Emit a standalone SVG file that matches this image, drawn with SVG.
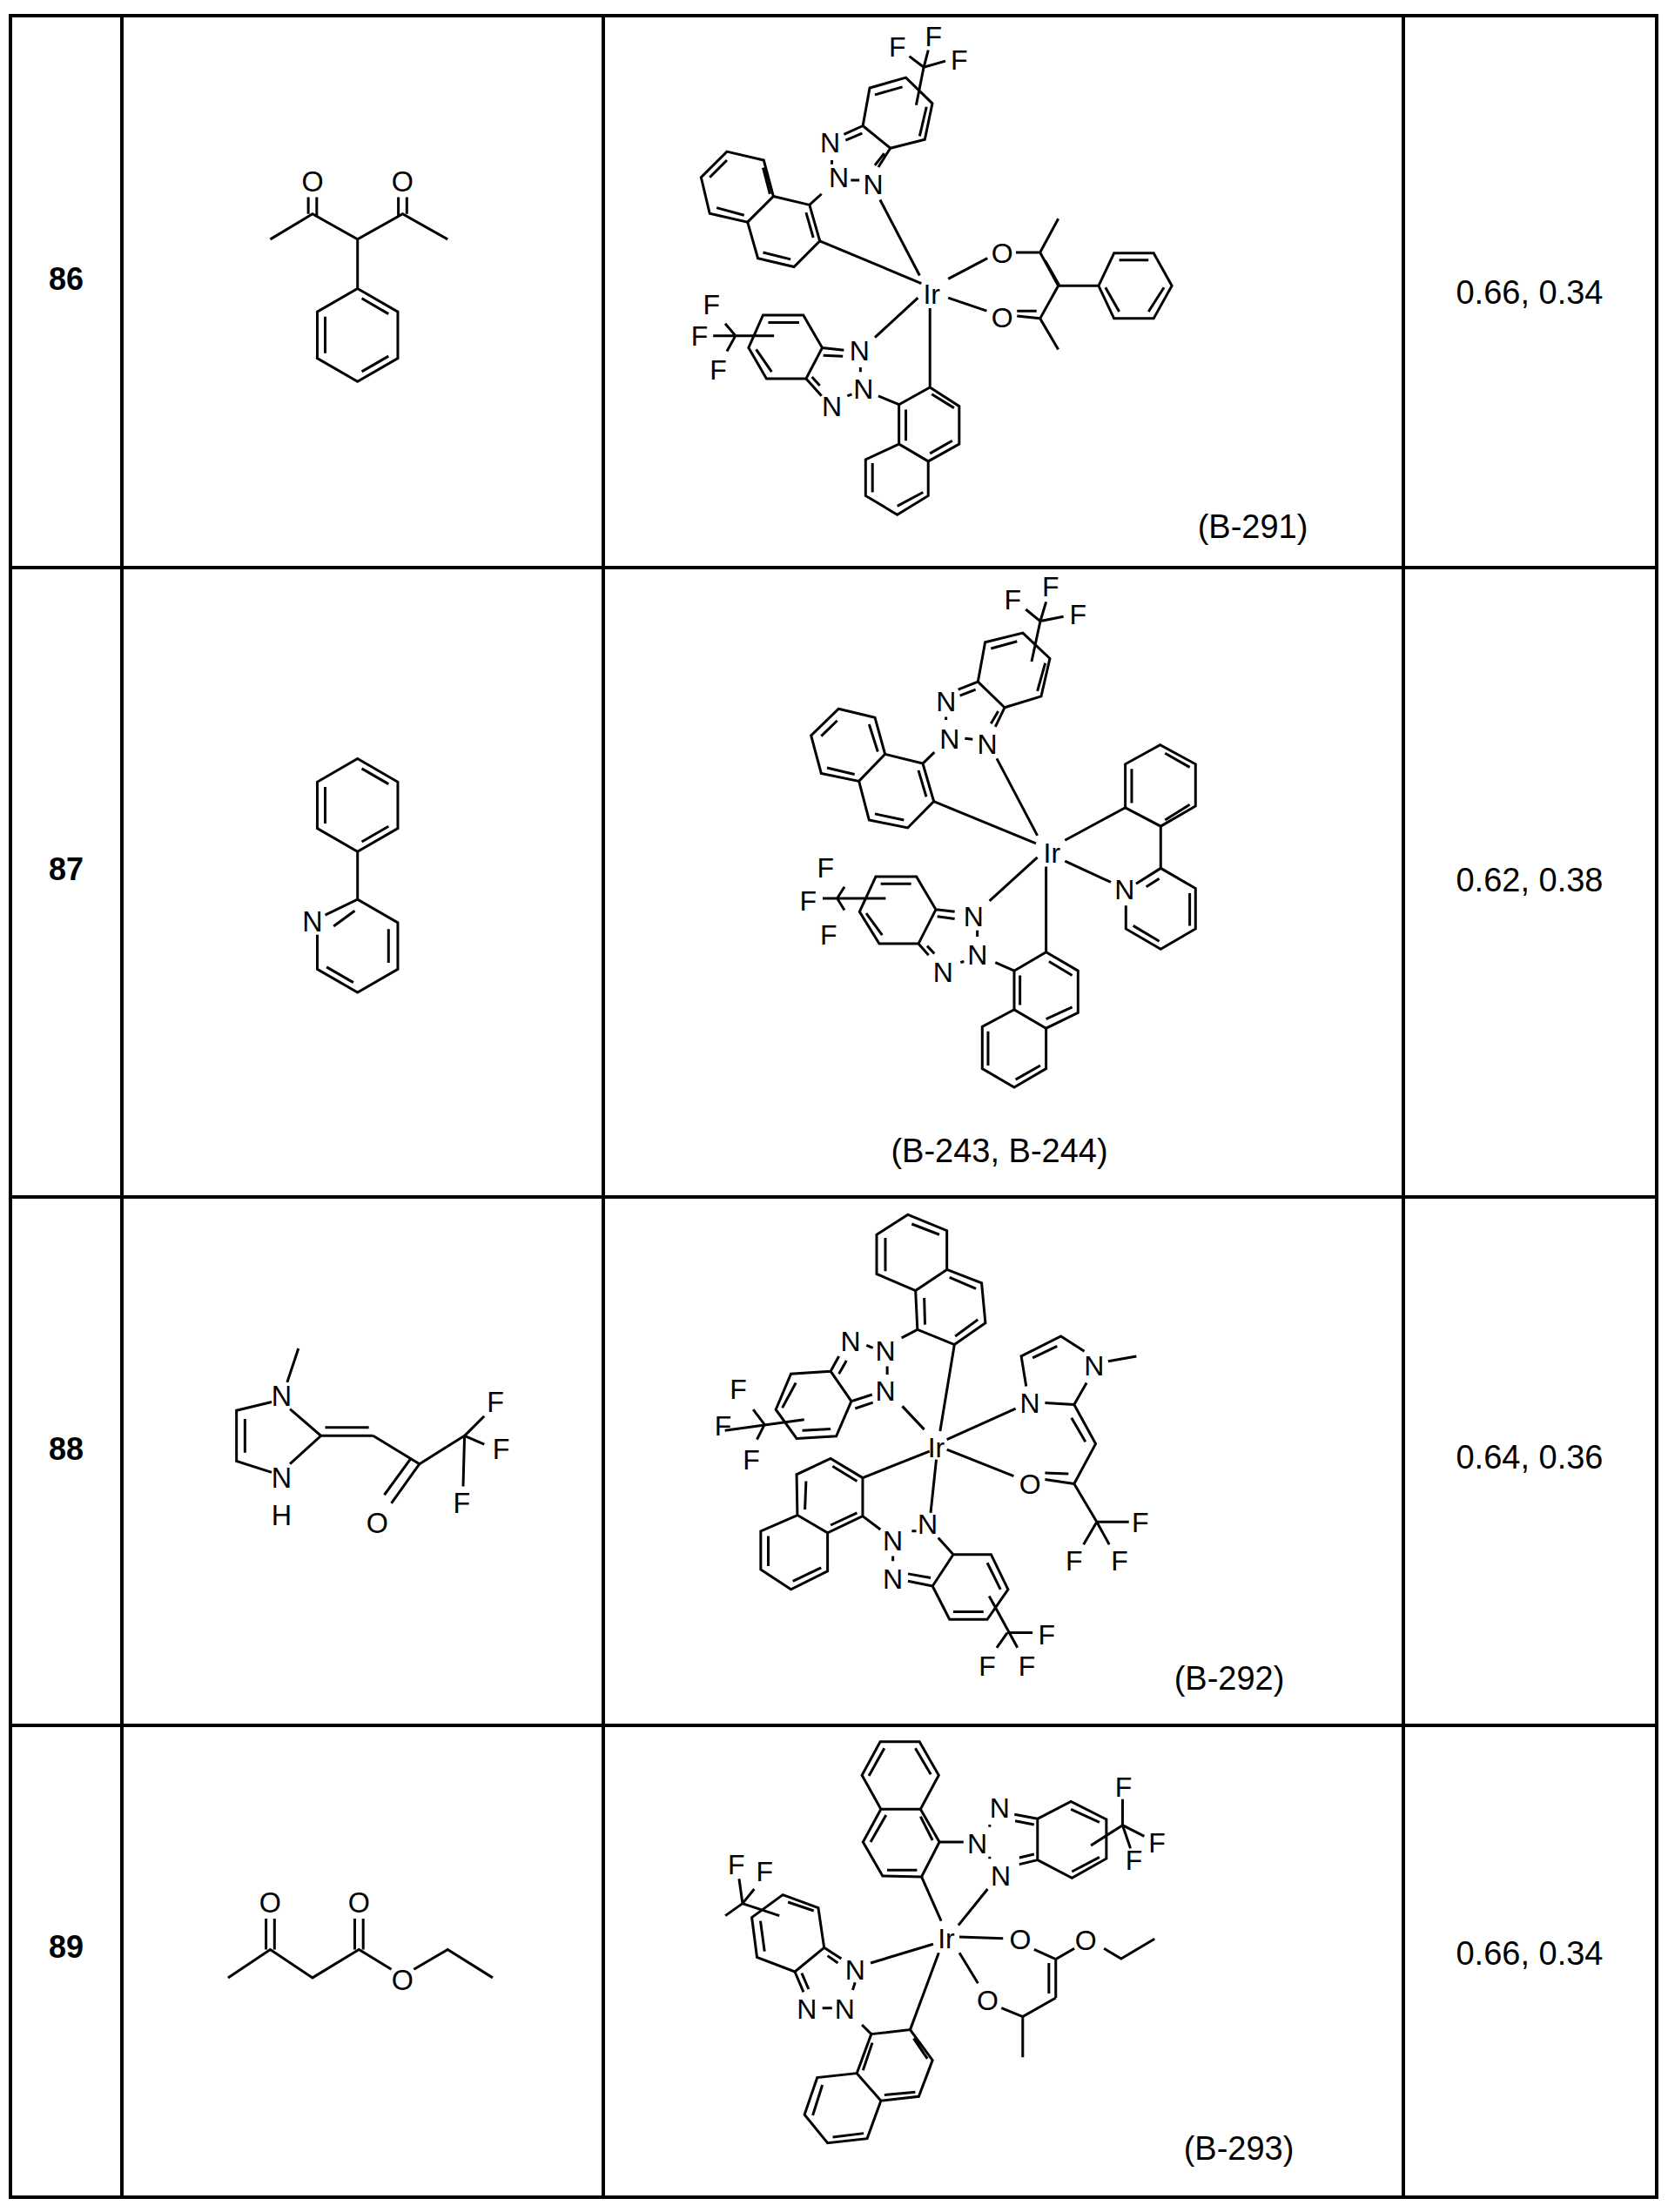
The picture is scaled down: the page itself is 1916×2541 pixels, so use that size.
<svg xmlns="http://www.w3.org/2000/svg" width="1916" height="2541" viewBox="0 0 1916 2541">
<style>
.b{fill:none;stroke:#000;stroke-width:3;vector-effect:non-scaling-stroke;stroke-linejoin:miter}
.t{font-family:"Liberation Sans",Arial,sans-serif;font-size:32px;text-anchor:middle;dominant-baseline:central;fill:#000}
.r{font-family:"Liberation Sans",Arial,sans-serif;font-size:36px;font-weight:bold;text-anchor:middle;fill:#000}
.v{font-family:"Liberation Sans",Arial,sans-serif;font-size:38px;text-anchor:middle;fill:#000}
.lt{font-family:"Liberation Sans",Arial,sans-serif;font-size:20px;text-anchor:middle;dominant-baseline:central;fill:#000}
.grid{fill:none;stroke:#000;stroke-width:4}
</style>
<rect width="1916" height="2541" fill="#fff"/>
<g id="table">
<rect class="grid" x="12" y="18" width="1891" height="2506"/>
<path class="grid" d="M140,18V2524M693,18V2524M1612,18V2524M12,652H1903M12,1375H1903M12,1982H1903"/>
</g>
<g id="labels">
<text class="r" x="76" y="333">86</text>
<text class="r" x="76" y="1011">87</text>
<text class="r" x="76" y="1677">88</text>
<text class="r" x="76" y="2249">89</text>
<text class="v" x="1757" y="349">0.66, 0.34</text>
<text class="v" x="1757" y="1024">0.62, 0.38</text>
<text class="v" x="1757" y="1687">0.64, 0.36</text>
<text class="v" x="1757" y="2257">0.66, 0.34</text>
<text class="v" x="1439" y="618">(B-291)</text>
<text class="v" x="1148" y="1335">(B-243, B-244)</text>
<text class="v" x="1412" y="1941">(B-292)</text>
<text class="v" x="1423" y="2481">(B-293)</text>
</g>
<g id="ligands" transform="scale(1.617)">
<g id="lig86">
<path class="b" d="M192,170L222,152L254,170L286,152L318,170M219,152V140M225,154V140M283,154V140M289,152V140M254,170V205"/>
<path class="b" d="M254,205L282.6,221.5L282.6,254.5L254,271L225.4,254.5L225.4,221.5Z M257,212L276,223M276,253L257,264M231,251V225"/>
<text class="lt" x="222" y="129">O</text><text class="lt" x="286" y="129">O</text>
</g>
<g id="lig87">
<path class="b" d="M254,539L282.6,555.5L282.6,588.5L254,605L225.4,588.5L225.4,555.5Z M257,546L276,557M276,587L257,598M231,585V559M254,605V639"/>
<path class="b" d="M231,650L254,639L282.6,655.5L282.6,688.5L254,705L225.4,688.5L225.4,664M276,660V684M251,698L232,687M237,658L252,647"/>
<text class="lt" x="222" y="655">N</text>
</g>
<g id="lig88">
<path class="b" d="M206,1001L228,1020L206,1040M193,1046L168,1038L168,1002L193,996M174,1008V1032M204,982L212,958M228,1020L265,1020M231,1014L262,1014M265,1020L298,1040L330,1020M298,1040L278,1068M292,1036L273,1062M330,1020L344,1006M330,1020L344,1026M330,1020L329,1056"/>
<text class="lt" x="200" y="992">N</text><text class="lt" x="200" y="1050">N</text><text class="lt" x="200" y="1077">H</text>
<text class="lt" x="268" y="1082">O</text><text class="lt" x="352" y="996">F</text><text class="lt" x="356" y="1030">F</text><text class="lt" x="328" y="1068">F</text>
</g>
<g id="lig89">
<path class="b" d="M162,1405L192,1385L222,1405L255,1385L278,1399M294,1399L318,1385L350,1405M189,1385V1363M195,1385V1363M252,1385V1363M258,1385V1363"/>
<text class="lt" x="192" y="1352">O</text><text class="lt" x="255" y="1352">O</text><text class="lt" x="286" y="1407">O</text>
</g>
</g>
<g id="complex86">
<g transform="translate(750,18) scale(0.3953)">
<path class="b" d="M215,395L322,420L350,525L275,600L165,575L140,470Z M165,470L215,420M320,442L340,518M185,558L265,580"/>
<path class="b" d="M350,525L455,550L485,655L410,730L305,705L275,600M445,572L466,645M320,688L400,708M455,550L490,518"/>
<path class="b" d="M575,478L600,478M520,432V420M555,345L610,320M560,362L608,342M610,320L690,385L655,440M672,400L645,435"/>
<path class="b" d="M610,320L630,210L735,180L812,255L790,360L690,385M645,230L725,207M795,265L775,350M787,150L765,260M787,150L745,118M787,150L800,100M787,150L850,132"/>
<path class="b" d="M660,535L775,755M485,655L780,778M858,765L972,705M1055,688L1125,688L1178,590M1125,688L1178,785M1140,712L1180,782M1178,785L1295,785M1178,785L1125,880L1178,970M1058,873L1125,880M1058,858L1115,858M858,820L970,858"/>
<path class="b" d="M1295,785L1340,690L1455,690L1508,785L1455,880L1340,880Z M1355,710L1440,710M1485,790L1440,860M1355,860L1315,790"/>
<path class="b" d="M320,870L437,870L492,965L445,1055L330,1055L278,965Z M335,892L425,892M300,970L345,1035M492,965L555,972M495,987L552,990M445,1055L490,1105M462,1050L485,1075"/>
<path class="b" d="M603,1022V1035M565,1105L578,1100M645,935L770,820M655,1105L715,1130M175,930L352,930M240,930L210,895M240,930L215,975"/>
<path class="b" d="M715,1130L805,1080L890,1135L890,1245L800,1295L715,1245Z M810,1100L875,1140M735,1145V1235M870,1235L805,1272M800,1295L800,1395L710,1450L618,1395L618,1290L715,1245M638,1300V1385M710,1425L785,1385M805,850V1080"/>
</g>
<text class="t" x="963.5" y="203.8">N</text><text class="t" x="953.6" y="164.3">N</text><text class="t" x="1003" y="211.7">N</text>
<text class="t" x="1030.7" y="53.6">F</text><text class="t" x="1072.2" y="41.7">F</text><text class="t" x="1101.8" y="69.4">F</text>
<text class="t" x="1070.2" y="338.2">Ir</text><text class="t" x="1151.2" y="290.8">O</text><text class="t" x="1151.2" y="365.1">O</text>
<text class="t" x="987.2" y="403.4">N</text><text class="t" x="991.9" y="446.9">N</text><text class="t" x="955.6" y="466.7">N</text>
<text class="t" x="817.2" y="350">F</text><text class="t" x="803.4" y="385.6">F</text><text class="t" x="825.1" y="425.2">F</text>
</g>
<g id="complex87">
<g transform="translate(880,660) scale(0.3333,0.357)">
<path class="b" d="M250,432L375,460L410,578L320,665L190,640L155,518Z M190,520L245,470M355,482L385,570M210,622L305,643"/>
<path class="b" d="M410,578L540,608L578,730L488,815L355,790L320,665M525,630L552,715M375,770L475,790M540,608L580,572"/>
<path class="b" d="M620,458V468M685,527L712,530M662,370L730,345M668,390L722,370M730,345L822,428L790,490M800,440L775,480"/>
<path class="b" d="M730,345L755,218L885,188L978,270L948,392L822,428M775,238L865,215M962,285L935,375M945,150L915,280M945,150L895,112M945,150L965,88M945,150L1025,135"/>
<path class="b" d="M795,592L935,840M578,730L930,865M1030,855L1238,750M1030,922L1188,990"/>
<path class="b" d="M1238,750L1238,610L1358,548L1480,610L1480,745L1360,810Z M1260,625V735M1375,575L1460,620M1460,740L1375,790M1360,810V945"/>
<path class="b" d="M1275,995L1360,945L1480,1010L1480,1140L1360,1205L1240,1140L1240,1065M1310,1005L1355,978M1460,1025V1130M1265,1130L1355,1180"/>
<path class="b" d="M935,910L770,1050M378,972L518,972L585,1078L525,1188L390,1188L322,1085Z M395,995L500,995M345,1090L400,1160M585,1078L650,1085M590,1100L650,1108M525,1188L560,1225M555,1195L580,1220M728,1145V1165M670,1248L682,1245"/>
<path class="b" d="M195,1042L412,1042M245,1042L270,1005M245,1042L270,1080"/>
<path class="b" d="M790,1248L855,1275M965,940V1215M855,1275L965,1215L1075,1275L1075,1410L965,1460L855,1400Z M975,1245L1055,1290M875,1290V1385M965,1430L1055,1392M855,1400L745,1455L745,1590L855,1650L965,1590L965,1460M765,1470V1580M860,1625L945,1580"/>
</g>
<text class="t" x="1086.7" y="806.4">N</text><text class="t" x="1090.7" y="849.2">N</text><text class="t" x="1134" y="854.6">N</text>
<text class="t" x="1163.3" y="688.6">F</text><text class="t" x="1206.7" y="674.3">F</text><text class="t" x="1238.3" y="706.4">F</text>
<text class="t" x="1208.3" y="979.5">Ir</text><text class="t" x="1291.7" y="1022.4">N</text>
<text class="t" x="1118.3" y="1052.7">N</text><text class="t" x="1122.7" y="1097.3">N</text><text class="t" x="1083.3" y="1117">N</text>
<text class="t" x="948.3" y="997.4">F</text><text class="t" x="928.3" y="1034.9">F</text><text class="t" x="951.7" y="1074.1">F</text>
</g>
<g id="complex88">
<g transform="translate(850,1380) scale(0.4337,0.3827)">
<path class="b" d="M445,40L548,88L548,205L465,268L362,218L362,100Z M455,68L528,100M385,110V210"/>
<path class="b" d="M548,205L640,245L650,365L568,430L470,385L465,268M555,228L625,262M630,355L570,405M488,290L490,370M470,385L428,410M568,430L530,690"/>
<path class="b" d="M335,432L352,440M390,495V520M262,465L240,510M282,478L262,518M240,510L295,600L350,580M305,622L352,604M240,510L135,518L95,625L150,712L255,705L295,600M148,545L112,620M165,688L240,683"/>
<path class="b" d="M-40,688L170,655M65,670L35,625M65,670L45,715M430,615L488,685"/>
<path class="b" d="M548,715L730,622M758,555L745,465L850,405L912,450M775,470L840,435M975,480L1050,465M918,545L885,610M808,605L885,610L942,728L885,848M878,650L915,722M808,835L885,848M808,815L870,818M548,745L725,825M885,848L945,962L1030,962M945,962L910,1030M945,962L978,1030"/>
<path class="b" d="M502,750L325,830"/>
<path class="b" d="M325,830L240,772L150,820L152,942L232,995L325,945Z M245,795L310,840M175,840L172,925M240,972L310,935M152,942L55,990L55,1105L135,1165L232,1110L232,995M75,1005V1095M140,1140L215,1100"/>
<path class="b" d="M325,945L372,985M520,775L505,935M455,990L467,990M405,1065V1080M525,1010L565,1060M445,1140L510,1155M445,1118L505,1130M565,1060L665,1060L710,1165L655,1255L555,1255L510,1155Z M655,1085L690,1165M565,1232L645,1232M660,1185L735,1340M708,1295L775,1295M708,1295L680,1340"/>
</g>
<text class="t" x="977.1" y="1540.7">N</text><text class="t" x="1017" y="1552.2">N</text><text class="t" x="1017" y="1598.1">N</text>
<text class="t" x="848" y="1596">F</text><text class="t" x="830.5" y="1638.3">F</text><text class="t" x="863" y="1676.6">F</text>
<text class="t" x="1075.5" y="1663.2">Ir</text><text class="t" x="1183.1" y="1611.5">N</text><text class="t" x="1256.8" y="1569.4">N</text>
<text class="t" x="1183.1" y="1704.5">O</text><text class="t" x="1309.7" y="1749.3">F</text><text class="t" x="1233.8" y="1793.3">F</text><text class="t" x="1285.9" y="1793.3">F</text>
<text class="t" x="1065.5" y="1751.2">N</text><text class="t" x="1025.6" y="1770.4">N</text><text class="t" x="1025.6" y="1814.4">N</text>
<text class="t" x="1202.2" y="1877.5">F</text><text class="t" x="1134.1" y="1913.9">F</text><text class="t" x="1179.6" y="1913.9">F</text>
</g>
<g id="complex89">
<g transform="translate(830,1990) scale(0.3954,0.3333)">
<path class="b" d="M458,32L572,32L628,148L575,265L460,265L405,148Z M425,150L470,55M560,55L605,145"/>
<path class="b" d="M575,265L630,378L578,498L465,495L408,378L460,265M430,378L475,285M575,290L610,372M478,475L565,475M630,378L700,378"/>
<path class="b" d="M776,318V326M776,428V436M848,283L915,298M850,305L905,318M862,455L915,440M862,432L905,420M915,298L1012,238L1115,300L1115,435L1015,502L915,440Z M1012,265L1095,310M1095,430L1015,480M1070,390L1162,320M1162,320L1162,230M1162,320L1225,358M1162,320L1185,400"/>
<path class="b" d="M770,540L685,665M578,498L635,650M688,705L815,710M905,748L968,782L1022,745M1108,745L1158,780L1255,712M968,782L968,915M948,795L948,900M968,915L872,980L810,950M688,760L742,865M872,980L872,1120"/>
<path class="b" d="M612,730L430,795M385,862L378,888M290,950L318,950M405,1008L432,1040M628,760L545,1025"/>
<path class="b" d="M295,742L278,605L175,560L85,638L100,775L210,825Z M190,585L265,615M110,650L122,755M295,742L345,780M305,770L335,795M210,825L235,895M230,830L250,885M58,590L8,632M58,590L48,505M58,590L92,540M58,590L165,632"/>
<path class="b" d="M432,1040L545,1025L610,1130L570,1255L460,1270L390,1175Z M555,1055L595,1125M470,1250L560,1240M408,1165L435,1070M390,1175L275,1190L238,1318L305,1415L420,1400L460,1270M262,1320L290,1215M320,1395L410,1382"/>
</g>
<text class="t" x="1148.3" y="2077.3">N</text><text class="t" x="1122.6" y="2118.3">N</text><text class="t" x="1149.5" y="2155">N</text>
<text class="t" x="1290.6" y="2053.3">F</text><text class="t" x="1329" y="2117.3">F</text><text class="t" x="1302.5" y="2136.7">F</text>
<text class="t" x="1087" y="2226.7">Ir</text><text class="t" x="1172" y="2228.3">O</text><text class="t" x="1247.1" y="2229.3">O</text><text class="t" x="1134.5" y="2298.3">O</text>
<text class="t" x="982.2" y="2263.3">N</text><text class="t" x="926.9" y="2308.3">N</text><text class="t" x="970.4" y="2308.3">N</text>
<text class="t" x="845.8" y="2141.7">F</text><text class="t" x="878.2" y="2150">F</text>
</g>
</svg>
